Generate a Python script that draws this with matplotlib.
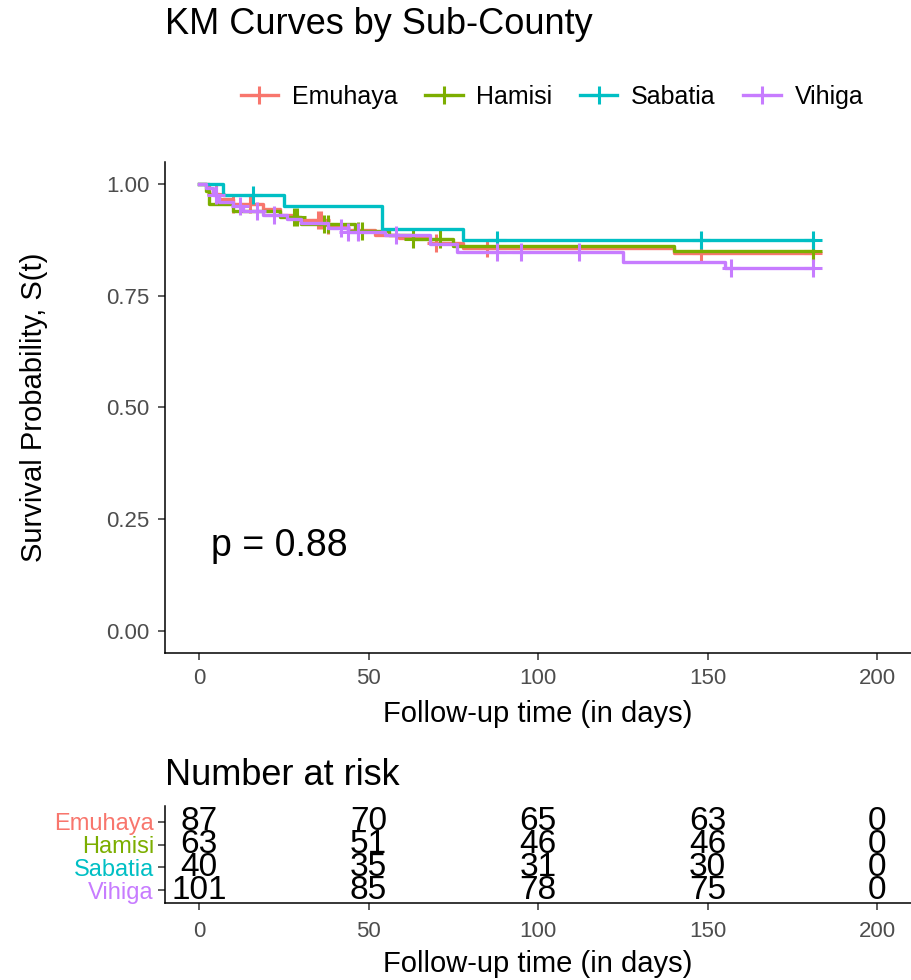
import matplotlib
matplotlib.use('Agg')
import numpy as np
import matplotlib.pyplot as plt
from matplotlib.lines import Line2D

plt.rcParams['font.family'] = ['Liberation Sans', 'DejaVu Sans']

groups = ['Emuhaya', 'Hamisi', 'Sabatia', 'Vihiga']
colors = ['#F8766D', '#7CAE00', '#00BFC4', '#C77CFF']

# step times and survival after each step, censor times
emu_t = [3, 6, 10, 19, 24, 29, 38, 44, 52, 59, 68, 78, 140]
emu_s = [0.977, 0.966, 0.954, 0.943, 0.931, 0.920, 0.908, 0.897, 0.886, 0.880, 0.868, 0.857, 0.845]
emu_c = [5, 10, 15, 35, 36, 38, 70, 85, 148, 181]

ham_t = [2, 3, 10, 24, 30, 46, 56, 63, 75, 140]
ham_s = [0.984, 0.955, 0.940, 0.925, 0.910, 0.895, 0.885, 0.876, 0.862, 0.850]
ham_c = [28, 29, 37, 38, 47, 48, 63, 71, 181]

sab_t = [7, 25, 54, 78]
sab_s = [0.975, 0.95, 0.90, 0.875]
sab_c = [16, 88, 148, 181]

vih_t = [2, 4, 6, 10, 13, 19, 26, 30, 38, 44, 55, 68, 76, 125, 155]
vih_s = [0.990, 0.975, 0.960, 0.950, 0.940, 0.930, 0.922, 0.912, 0.902, 0.893, 0.886, 0.865, 0.848, 0.826, 0.812]
vih_c = [5, 12, 17, 22, 42, 44, 47, 58, 88, 95, 112, 157, 181]

risk_times = [0, 50, 100, 150, 200]
risk_emu = [87, 70, 65, 63, 0]
risk_ham = [63, 51, 46, 46, 0]
risk_sab = [40, 35, 31, 30, 0]
risk_vih = [101, 85, 78, 75, 0]

curves = [(emu_t, emu_s, emu_c), (ham_t, ham_s, ham_c),
          (sab_t, sab_s, sab_c), (vih_t, vih_s, vih_c)]
risks = [risk_emu, risk_ham, risk_sab, risk_vih]

fig = plt.figure(figsize=(9.12, 9.8), dpi=100)
ax = fig.add_axes([0.181, 0.3337, 0.818, 0.5014])

for (t, s, c), col in zip(curves, colors):
    tt = [0] + t + [max(c)]
    ss = [1.0] + s + [s[-1]]
    ax.step(tt, ss, where='post', color=col, lw=2.4)
    cy = [ss[np.searchsorted(tt, x, side='right') - 1] for x in c]
    ax.plot(c, cy, ls='none', marker='+', ms=13, mew=2.2, color=col)

ax.set_xlim(-10, 210)
ax.set_ylim(-0.05, 1.05)
ax.set_xticks([0, 50, 100, 150, 200])
ax.set_yticks([0, 0.25, 0.5, 0.75, 1.0])
ax.set_yticklabels(['0.00', '0.25', '0.50', '0.75', '1.00'])
for sp in ['top', 'right']:
    ax.spines[sp].set_visible(False)
for sp in ['left', 'bottom']:
    ax.spines[sp].set_linewidth(1.1)
ax.tick_params(labelsize=16, labelcolor='#4D4D4D', color='#333333', length=5, width=1.1, pad=6)
ax.set_xlabel('Follow-up time (in days)', fontsize=21, labelpad=8)
ax.set_ylabel('Survival Probability, S(t)', fontsize=21, labelpad=42)
ax.text(3.5, 0.19, 'p = 0.88', fontsize=27, va='center')

fig.text(165 / 912, 1 - 25 / 980, 'KM Curves by Sub-County', fontsize=26, va='center')

handles = [Line2D([], [], color=c, lw=2.4, marker='+', ms=13, mew=2.2) for c in colors]
fig.legend(handles, groups, loc='center', bbox_to_anchor=(552 / 912, 1 - 97 / 980), ncol=4,
           frameon=False, fontsize=18, handlelength=1.5, columnspacing=1.1, handletextpad=0.55)

# risk table
rax = fig.add_axes([0.181, 0.0786, 0.818, 0.0989])
rows = [4, 3, 2, 1]
for r, vals in zip(rows, risks):
    for x, v in zip(risk_times, vals):
        rax.text(x, r, str(v), ha='center', va='center', fontsize=24)
rax.set_xlim(-10, 210)
rax.set_ylim(0.43, 4.7)
rax.set_xticks([0, 50, 100, 150, 200])
rax.set_yticks(rows)
rax.set_yticklabels(groups)
for lab, col in zip(rax.get_yticklabels(), colors):
    lab.set_color(col)
for sp in ['top', 'right']:
    rax.spines[sp].set_visible(False)
for sp in ['left', 'bottom']:
    rax.spines[sp].set_linewidth(1.1)
rax.tick_params(axis='x', labelsize=16, labelcolor='#4D4D4D', color='#333333', length=5, width=1.1, pad=8)
rax.tick_params(axis='y', labelsize=17, color='#333333', length=5, width=1.1, pad=3)
rax.set_xlabel('Follow-up time (in days)', fontsize=21, labelpad=6)
fig.text(165 / 912, 1 - 775 / 980, 'Number at risk', fontsize=26, va='center')

fig.savefig('out.png', dpi=100)
